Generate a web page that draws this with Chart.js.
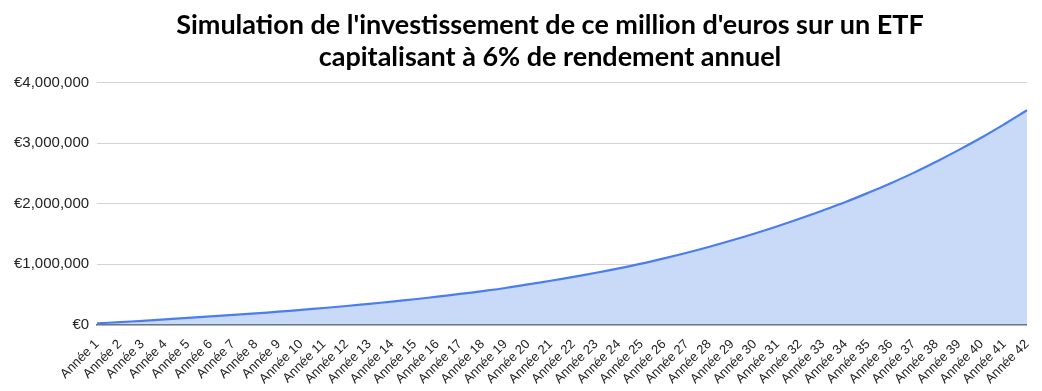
<!DOCTYPE html>
<html>
<head>
<meta charset="utf-8">
<script src="https://cdn.jsdelivr.net/npm/chart.js@4"></script>
<style>
  body { margin: 0; background: #fff; }
  #wrap { width: 1042px; height: 391px; }
</style>
</head>
<body>
<div id="wrap"><canvas id="simChart" width="1042" height="391"></canvas></div>
<script>
// Years on the x axis
const years = [];
for (let i = 1; i <= 42; i++) years.push('Année ' + i);

// Capital value per year (EUR)
const capital = [
    20000, 41000, 63000, 86000, 110000, 135000, 160000, 186000, 214000, 244000,
    275000, 308000, 343000, 380000, 420000, 462000, 507000, 555000, 606000, 665000,
    725000, 790000, 858000, 930000, 1008000, 1095000, 1188000, 1288000, 1395000, 1508000,
    1628000, 1755000, 1888000, 2028000, 2180000, 2340000, 2510000, 2695000, 2890000, 3095000,
    3315000, 3545000
];

// y axis ticks
const yTicks = [0, 1000000, 2000000, 3000000, 4000000];

const titleLines = [
    "Simulation de l'investissement de ce million d'euros sur un ETF",
    "capitalisant à 6% de rendement annuel"
];

// the title sits a bit right of the canvas centre in the original
const titleShift = {
    id: 'titleShift',
    afterLayout(chart) {
        const t = chart.titleBlock;
        if (!t) return;
        const d = 550 - (t.left + t.right) / 2;
        t.left += d;
        t.right += d;
    }
};

const ctx = document.getElementById('simChart').getContext('2d');
new Chart(ctx, {
    type: 'line',
    data: {
        labels: years,
        datasets: [{
            label: 'Capital',
            data: capital,
            borderColor: '#4a7ef0',
            backgroundColor: '#c9d9f8',
            borderWidth: 2.2,
            fill: 'origin',
            pointRadius: 0,
            tension: 0.4
        }]
    },
    options: {
        responsive: false,
        animation: false,
        layout: {
            padding: { left: 6, right: 10, top: 0, bottom: 0 }
        },
        scales: {
            x: {
                grid: { display: false },
                border: { display: true, color: '#5f6878', width: 1.5 },
                ticks: {
                    autoSkip: false,
                    maxRotation: 45,
                    minRotation: 45,
                    padding: 4,
                    color: '#222',
                    font: { family: "'Liberation Sans', Arial, sans-serif", size: 13 }
                }
            },
            y: {
                min: 0,
                max: 4000000,
                afterBuildTicks: function (axis) {
                    axis.ticks = yTicks.map(v => ({ value: v }));
                },
                border: { display: false },
                grid: {
                    color: '#d3d3d3',
                    drawTicks: false
                },
                ticks: {
                    padding: 8,
                    color: '#222',
                    font: { family: "'Liberation Sans', Arial, sans-serif", size: 15 },
                    callback: function (v) {
                        return '€' + v.toLocaleString('en-US');
                    }
                }
            }
        },
        plugins: {
            legend: { display: false },
            tooltip: { enabled: false },
            title: {
                display: true,
                text: titleLines,
                color: '#000',
                font: { family: 'Lato', size: 27, weight: 'bold', lineHeight: 1.2 },
                padding: { top: 9, bottom: 9 }
            }
        }
    },
    plugins: [titleShift]
});
</script>
</body>
</html>
